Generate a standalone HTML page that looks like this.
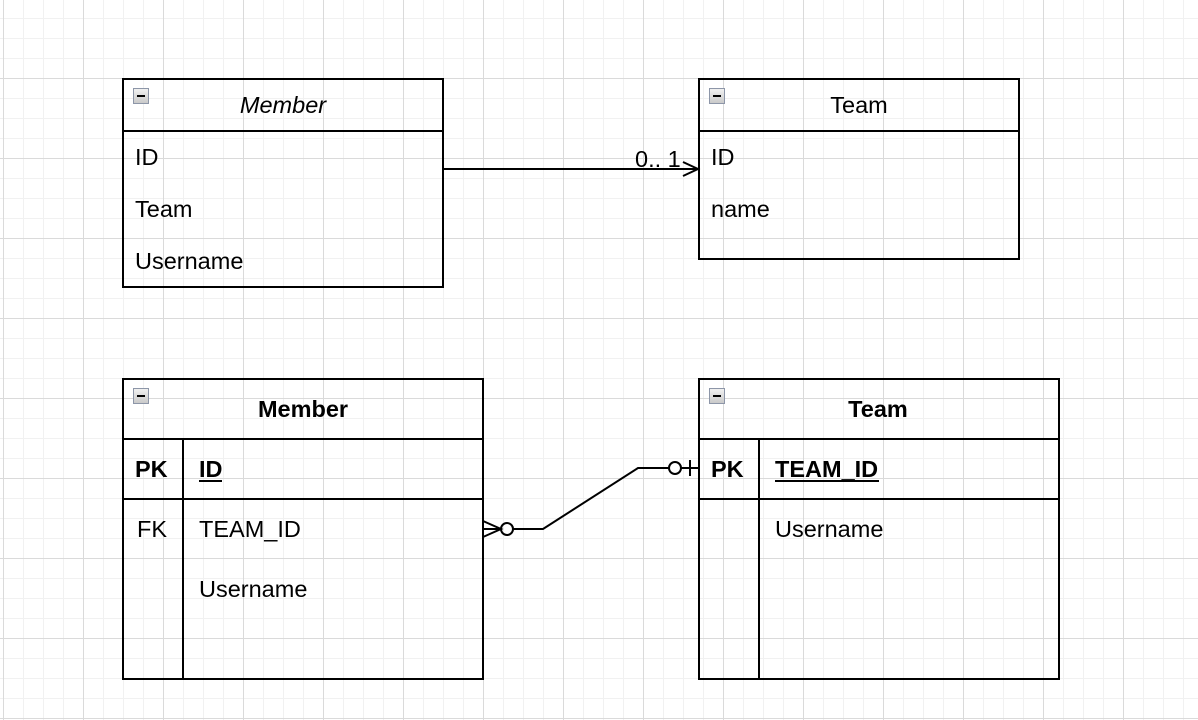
<!DOCTYPE html>
<html><head><meta charset="utf-8"><style>
html,body{margin:0;padding:0;background:#fff}
svg{display:block}
text{font-family:"Liberation Sans",Arial,sans-serif;font-size:23.5px;fill:#000}
</style></head><body>
<svg width="1198" height="720" viewBox="0 0 1198 720" xmlns="http://www.w3.org/2000/svg">
<defs>
<pattern id="minor" x="3" y="-2" width="20" height="20" patternUnits="userSpaceOnUse">
<path d="M0.5 0V20M0 0.5H20" stroke="#f1f1f1" stroke-width="1" fill="none"/>
</pattern>
<pattern id="major" x="3" y="-2" width="80" height="80" patternUnits="userSpaceOnUse">
<path d="M0.5 0V80M0 0.5H80" stroke="#dadada" stroke-width="1" fill="none"/>
</pattern>
<linearGradient id="ig" x1="0" y1="0" x2="0" y2="1"><stop offset="0" stop-color="#f2f2f2"/><stop offset="1" stop-color="#c8c8c8"/></linearGradient>
<g id="icon"><rect x="0.5" y="0.5" width="15" height="15" fill="url(#ig)" stroke="#8d96a8"/><rect x="4" y="7" width="8" height="2" fill="#000"/></g>
</defs>
<rect width="1198" height="720" fill="url(#minor)"/>
<rect width="1198" height="720" fill="url(#major)"/>

<g fill="none" stroke="#000" stroke-width="2">
<rect x="123" y="79" width="320" height="208"/>
<line x1="123" y1="131" x2="443" y2="131"/>
<rect x="699" y="79" width="320" height="180"/>
<line x1="699" y1="131" x2="1019" y2="131"/>
<rect x="123" y="379" width="360" height="300"/>
<line x1="123" y1="439" x2="483" y2="439"/>
<line x1="123" y1="499" x2="483" y2="499"/>
<line x1="183" y1="439" x2="183" y2="679"/>
<rect x="699" y="379" width="360" height="300"/>
<line x1="699" y1="439" x2="1059" y2="439"/>
<line x1="699" y1="499" x2="1059" y2="499"/>
<line x1="759" y1="439" x2="759" y2="679"/>
<line x1="443" y1="169" x2="698" y2="169"/>
<polyline points="683,162 698,169 683,176"/>
<polyline points="513,529 543,529 638,468 669,468"/>
<circle cx="507" cy="529" r="6"/>
<polyline points="483,521 501,529 483,537"/>
<line x1="483" y1="529" x2="501" y2="529"/>
<circle cx="675" cy="468" r="6"/>
<line x1="681" y1="468" x2="699" y2="468"/>
<line x1="690" y1="460" x2="690" y2="476"/>
</g>

<use href="#icon" x="133" y="88"/>
<use href="#icon" x="709" y="88"/>
<use href="#icon" x="133" y="388"/>
<use href="#icon" x="709" y="388"/>

<text x="283" y="113" text-anchor="middle" font-style="italic">Member</text>
<text x="135" y="165">ID</text>
<text x="135" y="217">Team</text>
<text x="135" y="269">Username</text>

<text x="859" y="113" text-anchor="middle">Team</text>
<text x="711" y="165">ID</text>
<text x="711" y="217">name</text>
<text x="635" y="167">0.. 1</text>

<text x="303" y="417" text-anchor="middle" font-weight="bold">Member</text>
<text x="135" y="477" font-weight="bold">PK</text>
<text x="199" y="477" font-weight="bold">ID</text>
<line x1="199" y1="481" x2="222" y2="481" stroke="#000" stroke-width="2"/>
<text x="137" y="537">FK</text>
<text x="199" y="537">TEAM_ID</text>
<text x="199" y="597">Username</text>

<text x="878" y="417" text-anchor="middle" font-weight="bold">Team</text>
<text x="711" y="477" font-weight="bold">PK</text>
<text x="775" y="477" font-weight="bold">TEAM_ID</text>
<line x1="775" y1="481" x2="879" y2="481" stroke="#000" stroke-width="2"/>
<text x="775" y="537">Username</text>
</svg>
</body></html>
